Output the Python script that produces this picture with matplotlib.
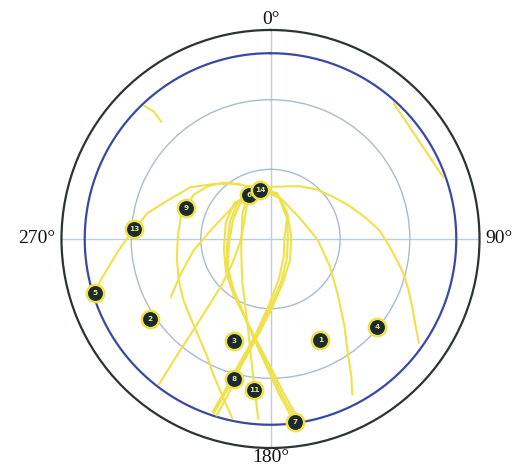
import matplotlib
matplotlib.use('Agg')
import numpy as np
import matplotlib.pyplot as plt

# satellite positions: azimuth (deg, clockwise from north), elevation (deg)
sat_prn = ['1', '2', '3', '4', '5', '8', '9', '11', '13', '7', '6', '14']
sat_az = [153.7, 236.5, 199.6, 129.5, 252.8, 194.5, 290.3, 186.2, 274.2, 172.4, 334.0, 347.9]
sat_el = [41.5, 27.9, 43.4, 30.5, 11.0, 27.6, 51.1, 24.8, 31.2, 10.6, 69.0, 68.6]

# sky tracks (azimuth / elevation samples)
arch_az = [253, 256.3, 260, 266.2, 274, 282, 291, 303, 314, 324, 336, 356, 29, 42.9, 56,
           67.1, 77.5, 85.2, 93, 99.5, 105, 110.5, 116, 120.9, 125]
arch_el = [11, 14.7, 19, 24.8, 31, 36, 43, 49, 56, 60.5, 65, 67.5, 64, 60.9, 57.5,
           53.2, 48, 43.1, 39, 34.8, 30.5, 26.5, 22, 17.2, 12]

prn9_az = [331, 320, 310, 300, 290, 284, 271, 259, 246, 235, 225, 217.5, 209, 203, 195, 192]
prn9_el = [63, 58.3, 54.7, 51.8, 51.1, 50.2, 50.1, 48.9, 46.7, 44.2, 41.5, 38.4, 33.1, 26.8, 16.2, 11]

west_az = [239.6, 249, 261.7, 282, 311, 332.4]
west_el = [40.2, 48.7, 56.6, 65, 68.8, 68.4]

sw_az = [217.5, 218.7, 220.2, 222.5, 226.5, 237.6, 264.3, 303.2, 327.5]
sw_el = [11.1, 24.8, 38.1, 49.9, 60.9, 70.6, 76.9, 76.5, 71.4]

prn11_az = [328.3, 310.5, 249.1, 214.4, 200.8, 193.6, 189.2, 186.3, 183.9]
prn11_el = [70, 74, 76.5, 68.4, 59.3, 49.3, 38, 26.1, 12.4]

east_az = [357, 16, 54, 91, 114, 130, 139.6, 146.4, 149.5, 152.3]
east_el = [68.2, 72.3, 74.5, 69.7, 62.2, 52, 40.9, 29.5, 21.4, 14.3]

loop_l1_az = [334, 317, 293, 260, 234, 214, 199, 189, 181, 176, 172]
loop_l1_el = [69, 69, 71, 71, 67, 62, 55, 46.5, 35, 23, 11.5]
loop_l2_az = [334, 315, 290, 258, 233, 213, 198, 188, 180, 175, 171]
loop_l2_el = [69, 68, 69.5, 69.5, 66, 61, 54.5, 46, 35, 23, 11]
loop_l3_az = [333, 318, 295, 263, 237, 216, 200, 190, 182, 177, 173]
loop_l3_el = [69, 70, 72, 72, 68, 63, 56, 47, 35.5, 23.5, 12]

loop_r1_az = [350, 8, 32, 84, 138, 165, 179, 188, 193, 195, 197]
loop_r1_el = [68.5, 70, 76.5, 81, 77.5, 70, 60, 47, 34, 22, 10.5]
loop_r2_az = [351, 10, 35, 86, 140, 166, 180, 188.5, 193.5, 196, 198]
loop_r2_el = [68.5, 71, 77.5, 82.5, 79, 71, 61, 47.5, 34.5, 22.5, 11]
loop_r3_az = [352, 12, 38, 88, 143, 168, 181, 189, 194, 196.5, 198.5]
loop_r3_el = [69, 72, 78.5, 84, 80.5, 72.5, 62, 48, 35, 23, 11.5]

nw_az = [316.5, 317.5, 317]
nw_el = [11, 15.5, 21]
ne_az = [42.3, 56, 70.4]
ne_el = [11.1, 13.4, 11]

mask_el = 10

tracks = [
    (arch_az, arch_el), (prn9_az, prn9_el), (west_az, west_el), (sw_az, sw_el),
    (prn11_az, prn11_el), (east_az, east_el),
    (loop_l1_az, loop_l1_el), (loop_l2_az, loop_l2_el), (loop_l3_az, loop_l3_el),
    (loop_r1_az, loop_r1_el), (loop_r2_az, loop_r2_el), (loop_r3_az, loop_r3_el),
    (nw_az, nw_el), (ne_az, ne_el),
]

YELLOW = '#efe14a'

fig = plt.figure(figsize=(5.22, 4.67), dpi=100)
ax = fig.add_axes([0.1178, 0.0407, 0.8008, 0.8951], projection='polar')
ax.set_theta_zero_location('N')
ax.set_theta_direction(-1)
ax.set_rlim(0, 90)

# crosshair and elevation rings
ax.set_thetagrids([0, 90, 180, 270], labels=['', '', '', ''])
ax.set_rgrids([30, 60], labels=['', ''])
ax.xaxis.grid(True, color='#b8d0e4', lw=1.0)
ax.yaxis.grid(True, color='#a9bccd', lw=1.0)
ax.spines['polar'].set_color('#2b3333')
ax.spines['polar'].set_linewidth(1.6)

ring = np.linspace(0, 2 * np.pi, 361)
ax.plot(ring, np.full_like(ring, 90 - mask_el), color='#3b48a3', lw=1.6, zorder=2)

for az, el in tracks:
    th = np.unwrap(np.radians(az))
    ax.plot(th, 90 - np.asarray(el), color=YELLOW, lw=1.5, zorder=3,
            solid_capstyle='round', solid_joinstyle='round')

for prn, az, el in zip(sat_prn, sat_az, sat_el):
    th, r = np.radians(az), 90 - el
    ax.plot(th, r, 'o', ms=12.5, mfc='#1b2a2a', mec=YELLOW, mew=1.8, zorder=5)
    ax.text(th, r, prn, ha='center', va='center', fontsize=5.3, fontweight='bold',
            color='#e4df8c', zorder=6)

# compass labels
lab_kw = dict(fontsize=14, family='Liberation Serif', color='#111111', clip_on=False)
ax.text(0, 90.8, '0°', ha='center', va='bottom', **lab_kw)
ax.text(np.pi, 90.6, '180°', ha='center', va='top', **lab_kw)
ax.text(np.pi / 2, 92.5, '90°', ha='left', va='center', **lab_kw)
ax.text(3 * np.pi / 2, 92.5, '270°', ha='right', va='center', **lab_kw)

fig.savefig('out.png', dpi=100)
